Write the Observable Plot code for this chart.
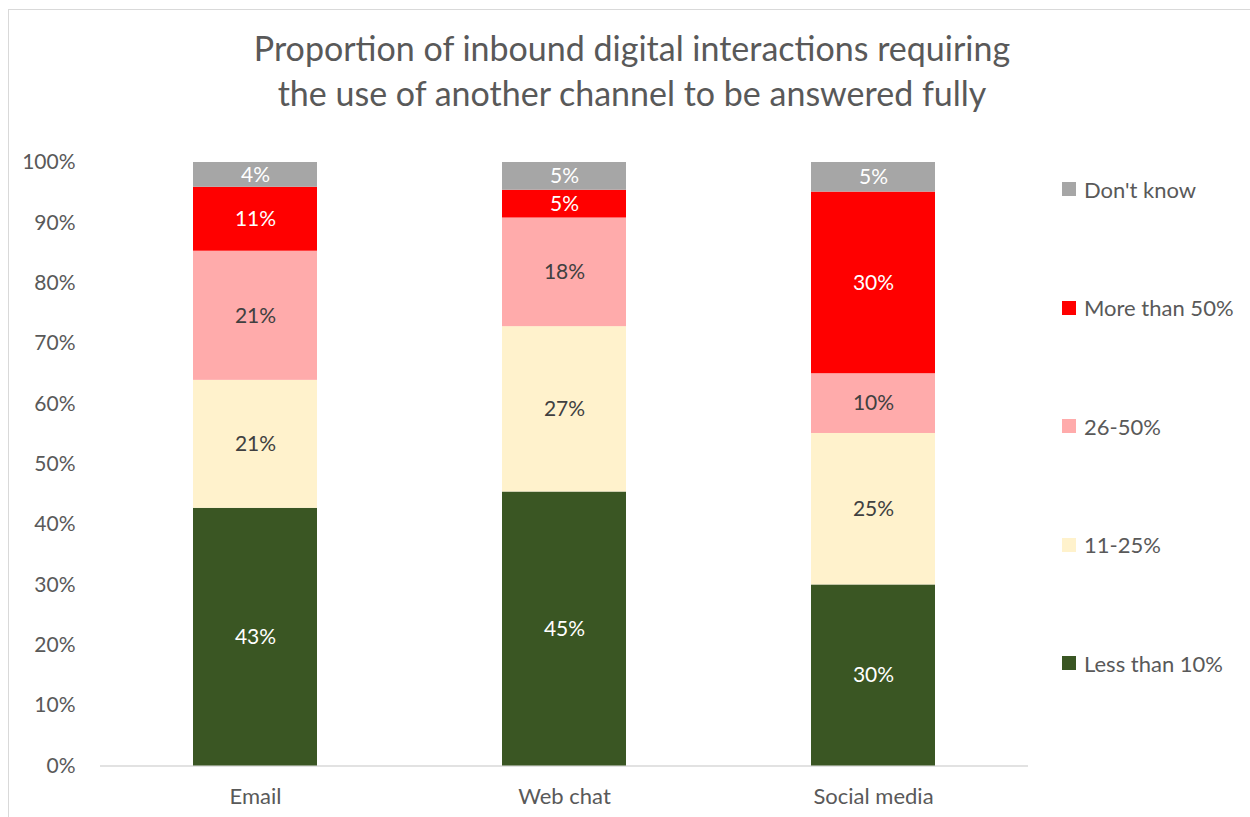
<!DOCTYPE html>
<html>
<head>
<meta charset="utf-8">
<script src="https://cdn.jsdelivr.net/npm/d3@7"></script>
<script src="https://cdn.jsdelivr.net/npm/@observablehq/plot@0.6"></script>
<style>
  html, body { margin: 0; padding: 0; background: #fff; }
  #wrap { position: relative; width: 1250px; height: 817px; overflow: hidden; font-family: Lato, "Open Sans", sans-serif; }
  #frame { position: absolute; left: 8px; top: 9px; width: 1300px; height: 900px; border: 1px solid #d9d9d9; box-sizing: border-box; }
  #title { position: absolute; left: 8px; top: 25px; width: 1248px; text-align: center; color: #595959; font-size: 34px; line-height: 45px; }
  #chart { position: absolute; left: 0; top: 0; }
  #legend { position: absolute; left: 1062px; top: 170px; display: flex; flex-direction: column; gap: 0; }
  .item { display: flex; align-items: center; height: 38px; margin-bottom: 80.6px; color: #595959; font-size: 22px; }
  .sw { width: 14px; height: 14px; margin-right: 8px; }
</style>
</head>
<body>
<div id="wrap">
  <div id="frame"></div>
  <div id="chart"></div>
  <div id="title">Proportion of inbound digital interactions requiring<br>the use of another channel to be answered fully</div>
  <div id="legend"></div>
</div>
<script>
// ---- Data ----
const channels = ["Email", "Web chat", "Social media"];
const categories = ["Less than 10%", "11-25%", "26-50%", "More than 50%", "Don't know"]; // bottom to top
const colors = ["#3a5623", "#fff2cc", "#ffabab", "#ff0000", "#a6a6a6"];
const labelColors = ["#ffffff", "#404040", "#404040", "#ffffff", "#ffffff"];

const lessThan10 = [42.7, 45.4, 30.0];
const from11to25 = [21.2, 27.4, 25.1];
const from26to50 = [21.4, 18.0, 9.9];
const moreThan50 = [10.6, 4.6, 30.1];
const dontKnow   = [4.1, 4.6, 4.9];

const yTicks = [0, 10, 20, 30, 40, 50, 60, 70, 80, 90, 100];

// ---- Build table ----
const series = [lessThan10, from11to25, from26to50, moreThan50, dontKnow];
const data = [];
channels.forEach((ch, i) => {
  categories.forEach((cat, j) => {
    data.push({channel: ch, category: cat, value: series[j][i]});
  });
});

const whiteCats = categories.filter((c, j) => labelColors[j] === "#ffffff");

const chart = Plot.plot({
  width: 1250,
  height: 817,
  marginLeft: 100,
  marginRight: 222,
  marginTop: 162,
  marginBottom: 51.5,
  style: {fontFamily: "Lato, 'Open Sans', sans-serif", fontSize: "21px", color: "#595959", background: "transparent", overflow: "visible"},
  x: {domain: channels, paddingInner: 0.6, paddingOuter: 0.3, label: null},
  y: {domain: [0, 100], label: null},
  color: {domain: categories, range: colors},
  marks: [
    Plot.axisY({ticks: yTicks, tickSize: 0, tickPadding: 25, tickFormat: d => d + "%", fontSize: 21, color: "#595959", label: null}),
    Plot.axisX({tickSize: 0, tickPadding: 22, fontSize: 22, color: "#595959", label: null}),
    Plot.ruleY([0], {stroke: "#d9d9d9", strokeWidth: 1.5}),
    Plot.barY(data, Plot.stackY({x: "channel", y: "value", z: "category", fill: "category", order: categories})),
    Plot.text(data, Plot.stackY({x: "channel", y: "value", z: "category", order: categories,
      text: d => whiteCats.includes(d.category) ? Math.round(d.value) + "%" : "",
      fill: "#ffffff", fontSize: 21})),
    Plot.text(data, Plot.stackY({x: "channel", y: "value", z: "category", order: categories,
      text: d => whiteCats.includes(d.category) ? "" : Math.round(d.value) + "%",
      fill: "#404040", fontSize: 21}))
  ]
});
document.getElementById("chart").appendChild(chart);

// ---- Legend (top to bottom: reverse of stack order) ----
const legend = document.getElementById("legend");
categories.slice().reverse().forEach((cat) => {
  const j = categories.indexOf(cat);
  const item = document.createElement("div");
  item.className = "item";
  const sw = document.createElement("span");
  sw.className = "sw";
  sw.style.background = colors[j];
  const tx = document.createElement("span");
  tx.textContent = cat;
  item.appendChild(sw);
  item.appendChild(tx);
  legend.appendChild(item);
});
</script>
</body>
</html>
